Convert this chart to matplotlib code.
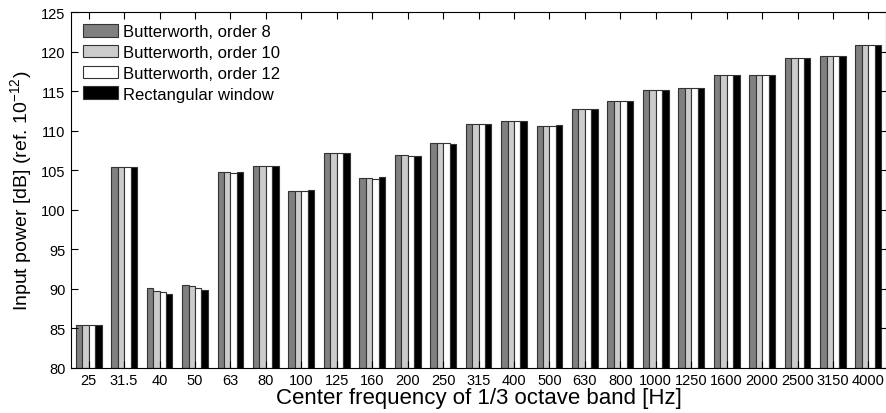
import numpy as np
import matplotlib.pyplot as plt

plt.rcParams['font.family'] = ['Liberation Sans', 'DejaVu Sans']
plt.rcParams['mathtext.fontset'] = 'custom'
plt.rcParams['mathtext.rm'] = 'Liberation Sans'
plt.rcParams['mathtext.it'] = 'Liberation Sans:italic'

bands = ['25', '31.5', '40', '50', '63', '80', '100', '125', '160', '200', '250',
         '315', '400', '500', '630', '800', '1000', '1250', '1600', '2000', '2500',
         '3150', '4000']

# input power per band [dB]
bw8 = [85.4, 105.4, 90.1, 90.5, 104.8, 105.6, 102.4, 107.2, 104.0, 106.9, 108.4,
       110.9, 111.3, 110.6, 112.7, 113.8, 115.1, 115.4, 117.1, 117.1, 119.2,
       119.5, 120.8]
bw10 = [85.4, 105.4, 89.7, 90.3, 104.8, 105.6, 102.4, 107.2, 104.0, 106.9, 108.4,
        110.9, 111.3, 110.6, 112.7, 113.8, 115.1, 115.4, 117.1, 117.1, 119.2,
        119.5, 120.8]
bw12 = [85.4, 105.4, 89.6, 90.1, 104.7, 105.5, 102.4, 107.2, 103.9, 106.85, 108.4,
        110.9, 111.2, 110.6, 112.7, 113.8, 115.1, 115.4, 117.1, 117.1, 119.2,
        119.5, 120.8]
rect = [85.4, 105.4, 89.4, 89.9, 104.8, 105.6, 102.5, 107.2, 104.1, 106.8, 108.3,
        110.9, 111.25, 110.75, 112.7, 113.8, 115.1, 115.45, 117.1, 117.1, 119.2,
        119.5, 120.8]

series = [bw8, bw10, bw12, rect]
names = ['Butterworth, order 8', 'Butterworth, order 10',
         'Butterworth, order 12', 'Rectangular window']
colors = ['#808080', '#cccccc', '#ffffff', '#000000']

fig = plt.figure(figsize=(8.87, 4.14), dpi=100)
ax = fig.add_axes([0.080, 0.109, 0.919, 0.859])

x = np.arange(1, len(bands) + 1)
w = 0.182
for i, (vals, c, n) in enumerate(zip(series, colors, names)):
    ax.bar(x + (i - 1.5) * w, np.array(vals) - 80, width=w, bottom=80,
           color=c, edgecolor='#333333', linewidth=0.8, label=n)

ax.set_xlim(0.5, len(bands) + 0.5)
ax.set_ylim(80, 125)
ax.set_xticks(x)
ax.set_xticklabels(bands)
ax.set_yticks(np.arange(80, 126, 5))
ax.tick_params(direction='in', top=True, right=True, length=5, width=0.8,
               labelsize=10.5, pad=4)
for s in ax.spines.values():
    s.set_linewidth(0.8)

ax.set_xlabel('Center frequency of 1/3 octave band [Hz]', fontsize=16, labelpad=0)
ax.set_ylabel('Input power [dB] (ref. 10$^{-12}$)', fontsize=14, labelpad=5)

ax.legend(loc='upper left', frameon=False, fontsize=12, handlelength=2.15,
          handleheight=0.8, handletextpad=0.3, labelspacing=0.34,
          borderaxespad=0.3, bbox_to_anchor=(0.0, 1.0))

fig.savefig('out.png', dpi=100)
